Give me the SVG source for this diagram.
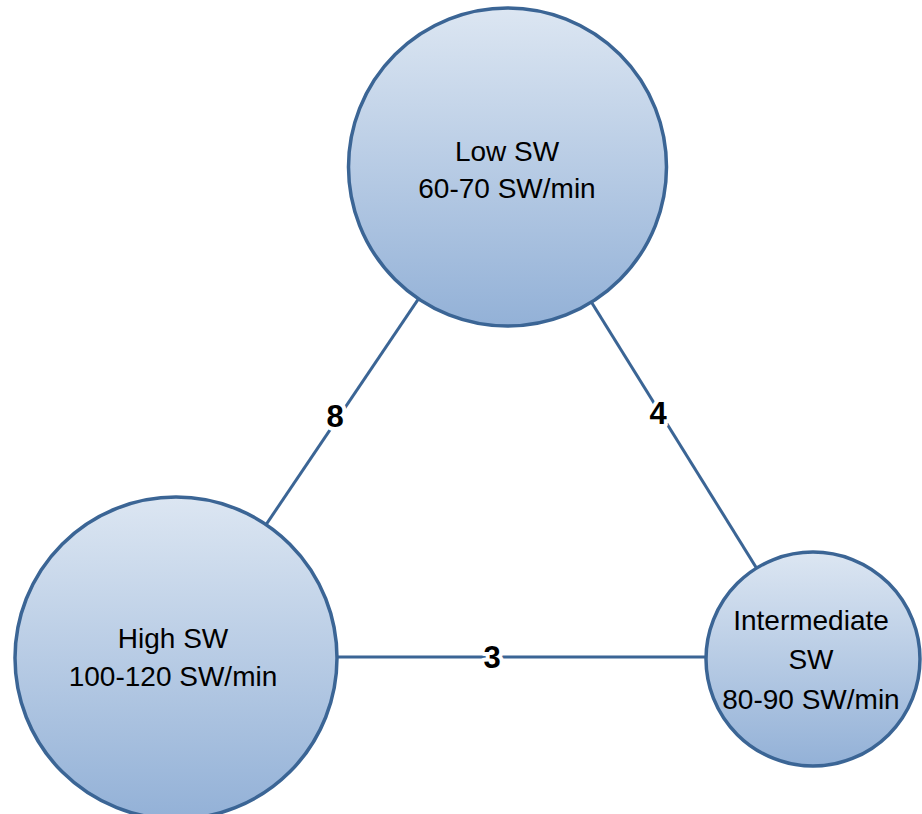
<svg xmlns="http://www.w3.org/2000/svg" width="922" height="814" viewBox="0 0 922 814">
  <style>
    .node { stroke: #3B6595; stroke-width: 3.5; fill: url(#g); }
    .edge { stroke: #3B6595; stroke-width: 3; fill: none; }
    .t { font-family: "Liberation Sans", Arial, sans-serif; font-size: 28px; fill: #000; text-anchor: middle; }
    .lbl { font-family: "Liberation Sans", Arial, sans-serif; font-size: 31px; font-weight: bold; fill: #000; text-anchor: middle; stroke: #fff; stroke-width: 8; paint-order: stroke; stroke-linejoin: round; }
  </style>
  <defs>
    <linearGradient id="g" x1="0" y1="0" x2="0" y2="1">
      <stop offset="0" stop-color="#DCE6F2"/>
      <stop offset="1" stop-color="#93B1D7"/>
    </linearGradient>
  </defs>
  <rect width="922" height="814" fill="#fff"/>
  <g id="connectors">
    <line class="edge" x1="507.5" y1="167" x2="176" y2="658"/>
    <line class="edge" x1="507.5" y1="167" x2="813" y2="659"/>
    <line class="edge" x1="176" y1="657" x2="813" y2="657"/>
  </g>
  <g id="low">
    <circle class="node" cx="507.5" cy="167" r="159"/>
    <text class="t" x="507" y="161">Low SW</text>
    <text class="t" x="507" y="198">60-70 SW/min</text>
  </g>
  <g id="high">
    <circle class="node" cx="176" cy="658" r="161"/>
    <text class="t" x="173" y="648">High SW</text>
    <text class="t" x="173" y="686">100-120 SW/min</text>
  </g>
  <g id="intermediate">
    <circle class="node" cx="813" cy="659" r="107"/>
    <text class="t" x="811" y="630">Intermediate</text>
    <text class="t" x="811" y="669">SW</text>
    <text class="t" x="811" y="709">80-90 SW/min</text>
  </g>
  <g id="labels">
    <text class="lbl" x="335" y="427">8</text>
    <text class="lbl" x="658" y="424">4</text>
    <text class="lbl" x="492" y="668">3</text>
  </g>
</svg>
